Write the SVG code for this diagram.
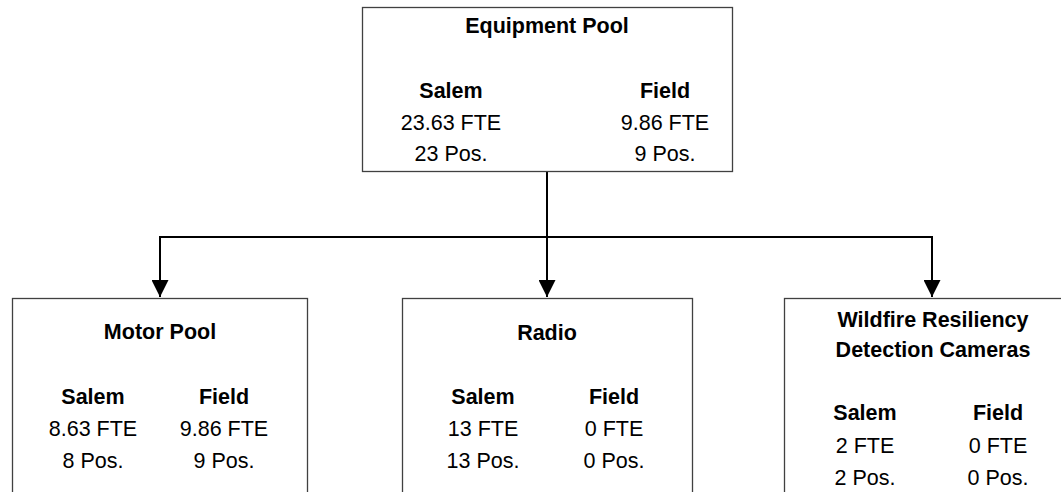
<svg xmlns="http://www.w3.org/2000/svg" width="1061" height="492" viewBox="0 0 1061 492">
<defs>
<style>
.box{fill:#ffffff;stroke:#404040;stroke-width:1.3}
.t{font-family:"Liberation Sans",Arial,sans-serif;font-size:21.5px;fill:#000;text-anchor:middle}
.b{font-weight:bold}
.con{fill:none;stroke:#000;stroke-width:2}
</style>
<marker id="arr" markerWidth="9" markerHeight="9" refX="8.5" refY="4.5" orient="auto" markerUnits="userSpaceOnUse" viewBox="0 0 9 9">
<path d="M0,0 L9,4.5 L0,9 Z" fill="#000" transform="scale(1)"/>
</marker>
<marker id="arrow" markerWidth="17" markerHeight="17" refX="17" refY="8.5" orient="auto" markerUnits="userSpaceOnUse">
<path d="M0,0 L17,8.5 L0,17 Z" fill="#000"/>
</marker>
</defs>
<rect width="1061" height="492" fill="#ffffff"/>
<g id="connectors">
<path class="con" d="M547,171 V237"/>
<path class="con" d="M160,237 H932"/>
<path class="con" d="M547,237 V297" marker-end="url(#arrow)"/>
<path class="con" d="M160,236 V297" marker-end="url(#arrow)"/>
<path class="con" d="M932,236 V297" marker-end="url(#arrow)"/>
</g>
<g id="equipment-pool">
<rect class="box" x="362.5" y="7.5" width="370" height="164"/>
<text class="t b" x="547" y="33">Equipment Pool</text>
<text class="t b" x="451" y="98">Salem</text>
<text class="t" x="451" y="130">23.63 FTE</text>
<text class="t" x="451" y="161">23 Pos.</text>
<text class="t b" x="665" y="98">Field</text>
<text class="t" x="665" y="130">9.86 FTE</text>
<text class="t" x="665" y="161">9 Pos.</text>
</g>
<g id="motor-pool">
<rect class="box" x="12.5" y="298.5" width="295" height="210"/>
<text class="t b" x="160" y="339">Motor Pool</text>
<text class="t b" x="93" y="404">Salem</text>
<text class="t" x="93" y="436">8.63 FTE</text>
<text class="t" x="93" y="468">8 Pos.</text>
<text class="t b" x="224" y="404">Field</text>
<text class="t" x="224" y="436">9.86 FTE</text>
<text class="t" x="224" y="468">9 Pos.</text>
</g>
<g id="radio">
<rect class="box" x="402.5" y="298.5" width="290" height="210"/>
<text class="t b" x="547" y="340">Radio</text>
<text class="t b" x="483" y="404">Salem</text>
<text class="t" x="483" y="436">13 FTE</text>
<text class="t" x="483" y="468">13 Pos.</text>
<text class="t b" x="614" y="404">Field</text>
<text class="t" x="614" y="436">0 FTE</text>
<text class="t" x="614" y="468">0 Pos.</text>
</g>
<g id="wildfire">
<rect class="box" x="784.5" y="298.5" width="290" height="210"/>
<text class="t b" x="933" y="327">Wildfire Resiliency</text>
<text class="t b" x="933" y="357">Detection Cameras</text>
<text class="t b" x="865" y="420">Salem</text>
<text class="t" x="865" y="453">2 FTE</text>
<text class="t" x="865" y="485">2 Pos.</text>
<text class="t b" x="998" y="420">Field</text>
<text class="t" x="998" y="453">0 FTE</text>
<text class="t" x="998" y="485">0 Pos.</text>
</g>
</svg>
